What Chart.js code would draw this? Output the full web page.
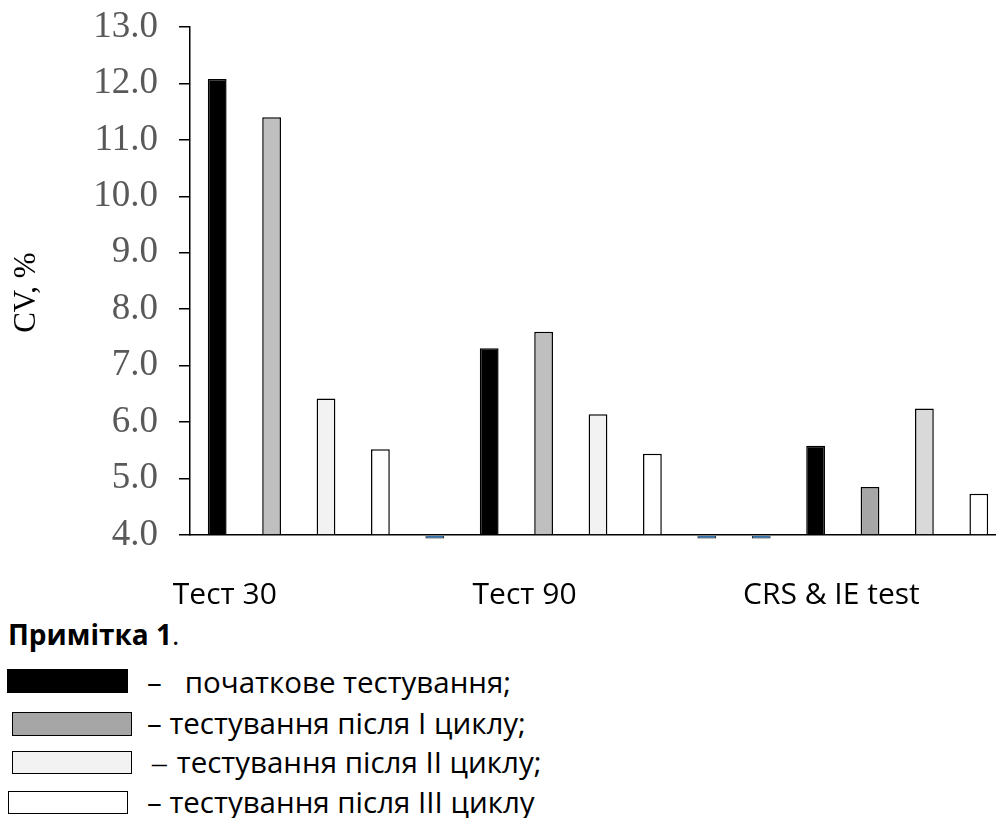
<!DOCTYPE html>
<html lang="uk">
<head>
    <meta charset="UTF-8">
    <title>CV, %</title>
    <script src="https://cdn.jsdelivr.net/npm/chart.js"></script>
    <style>
        html, body { margin: 0; padding: 0; background: #fff; overflow: hidden; }
        body { width: 996px; height: 818px; position: relative; }
        #wrap { position: absolute; left: 0; top: 0; width: 1006px; height: 615px; }
        .note { position: absolute; font-family: "Open Sans", sans-serif; color: #000; white-space: pre; line-height: normal; }
        .title { left: 8px; top: 615px; font-size: 28px; }
        .item { font-size: 29.5px; }
        .thin { font-family: "Liberation Serif", serif; margin-right: 10px; }
        .box { position: absolute; border: 1.5px solid #000; box-sizing: border-box; }
    </style>
</head>
<body>
    <div id="wrap"><canvas id="myChart"></canvas></div>

    <div class="note title"><b>Примітка 1</b>.</div>
    <div class="box" style="left:7px; top:669px; width:121px; height:24px; background:#000;"></div>
    <div class="note item" style="left:147px; top:661px;">–   початкове тестування;</div>
    <div class="box" style="left:12px; top:712px; width:120px; height:24px; background:#a6a6a6;"></div>
    <div class="note item" style="left:147px; top:702px;">– тестування після І циклу;</div>
    <div class="box" style="left:12px; top:751px; width:120px; height:23px; background:#f2f2f2;"></div>
    <div class="note item" style="left:152px; top:741px;"><span class="thin">–</span>тестування після ІІ циклу;</div>
    <div class="box" style="left:8px; top:791px; width:120px; height:23px; background:#fff;"></div>
    <div class="note item" style="left:147px; top:781px;">– тестування після ІІІ циклу</div>

    <script>
        // 15 bar slots along the axis
        const slots = ['1', '2', '3', '4', '5', '6', '7', '8', '9', '10', '11', '12', '13', '14', '15'];
        const groupNames = ['Тест 30', 'Тест 90', 'CRS & IE test'];
        const groupPos = [0.14, 5.65, 11.29];
        const yTicks = [4, 5, 6, 7, 8, 9, 10, 11, 12, 13];

        const initial = [12.08, null, null, null, null, 7.31, null, null, null, null, null, 5.58, null, null, null];
        const cycle1  = [null, 11.40, null, null, null, null, 7.60, null, null, null, null, null, 4.85, null, null];
        const cycle2  = [null, null, 6.42, null, null, null, null, 6.14, null, null, null, null, null, 6.24, null];
        const cycle3  = [null, null, null, 5.52, null, null, null, null, 5.44, null, null, null, null, null, 4.73];
        const blank   = [null, null, null, null, 3.94, null, null, null, null, 3.94, 3.94, null, null, null, null];

        const gray1 = ['#bfbfbf', '#bfbfbf', '#bfbfbf', '#bfbfbf', '#bfbfbf', '#bfbfbf', '#bfbfbf', '#bfbfbf', '#bfbfbf', '#bfbfbf', '#bfbfbf', '#bfbfbf', '#a6a6a6', '#a6a6a6', '#a6a6a6'];
        const gray2 = ['#f2f2f2', '#f2f2f2', '#f2f2f2', '#f2f2f2', '#f2f2f2', '#f2f2f2', '#f2f2f2', '#f2f2f2', '#f2f2f2', '#f2f2f2', '#f2f2f2', '#f2f2f2', '#f2f2f2', '#d9d9d9', '#d9d9d9'];

        function bars(label, data, color) {
            return {
                label: label,
                data: data,
                base: 4,
                backgroundColor: color,
                borderColor: '#000',
                borderWidth: 1.5
            };
        }

        function loadChart() {
            const ctx = document.getElementById('myChart').getContext('2d');
            const empty = bars('', blank, '#2e75b6');
            empty.clip = false;
            empty.borderWidth = 1;
            new Chart(ctx, {
                type: 'bar',
                data: {
                    labels: slots,
                    datasets: [
                        bars('початкове тестування', initial, '#000'),
                        bars('тестування після І циклу', cycle1, gray1),
                        bars('тестування після ІІ циклу', cycle2, gray2),
                        bars('тестування після ІІІ циклу', cycle3, '#fff'),
                        empty
                    ]
                },
                options: {
                    responsive: true,
                    maintainAspectRatio: false,
                    animation: false,
                    grouped: false,
                    categoryPercentage: 1,
                    barPercentage: 0.345,
                    layout: { padding: { top: 27, left: 0, right: 0, bottom: 0 } },
                    plugins: {
                        legend: { display: false },
                        tooltip: { enabled: false }
                    },
                    scales: {
                        y: {
                            min: 4,
                            max: 13,
                            afterBuildTicks: (s) => { s.ticks = yTicks.map(v => ({ value: v })); },
                            afterFit: (s) => { s.width = 190; s.paddingTop = 0; s.paddingBottom = 0; },
                            ticks: {
                                padding: 21,
                                color: '#595959',
                                font: { family: 'Liberation Serif', size: 37 },
                                callback: (v) => v.toFixed(1)
                            },
                            grid: {
                                drawOnChartArea: false,
                                drawTicks: true,
                                tickLength: 11,
                                color: '#000',
                                lineWidth: 1.5
                            },
                            border: { display: true, color: '#000', width: 1.5 },
                            title: {
                                display: true,
                                text: 'CV, %   ',
                                color: '#000',
                                font: { family: 'Liberation Serif', size: 31 },
                                padding: { top: 8, bottom: 0 }
                            }
                        },
                        x: {
                            weight: 0,
                            ticks: { display: false },
                            grid: { display: false, drawTicks: false },
                            border: { display: true, color: '#000', width: 1.5 },
                            afterFit: (s) => { s.height = 0; }
                        },
                        xg: {
                            type: 'linear',
                            position: 'bottom',
                            weight: 1,
                            offset: false,
                            min: -0.5,
                            max: 14.5,
                            afterBuildTicks: (s) => { s.ticks = groupPos.map(v => ({ value: v })); },
                            afterFit: (s) => { s.height = 80; },
                            grid: { display: false, drawTicks: false, offset: false },
                            border: { display: false },
                            ticks: {
                                autoSkip: false,
                                maxRotation: 0,
                                padding: 42,
                                color: '#000',
                                font: { family: 'Open Sans', size: 30 },
                                callback: (v, i) => groupNames[i]
                            }
                        }
                    }
                }
            });
        }

        window.onload = () => {
            loadChart();
        };
    </script>
</body>
</html>
